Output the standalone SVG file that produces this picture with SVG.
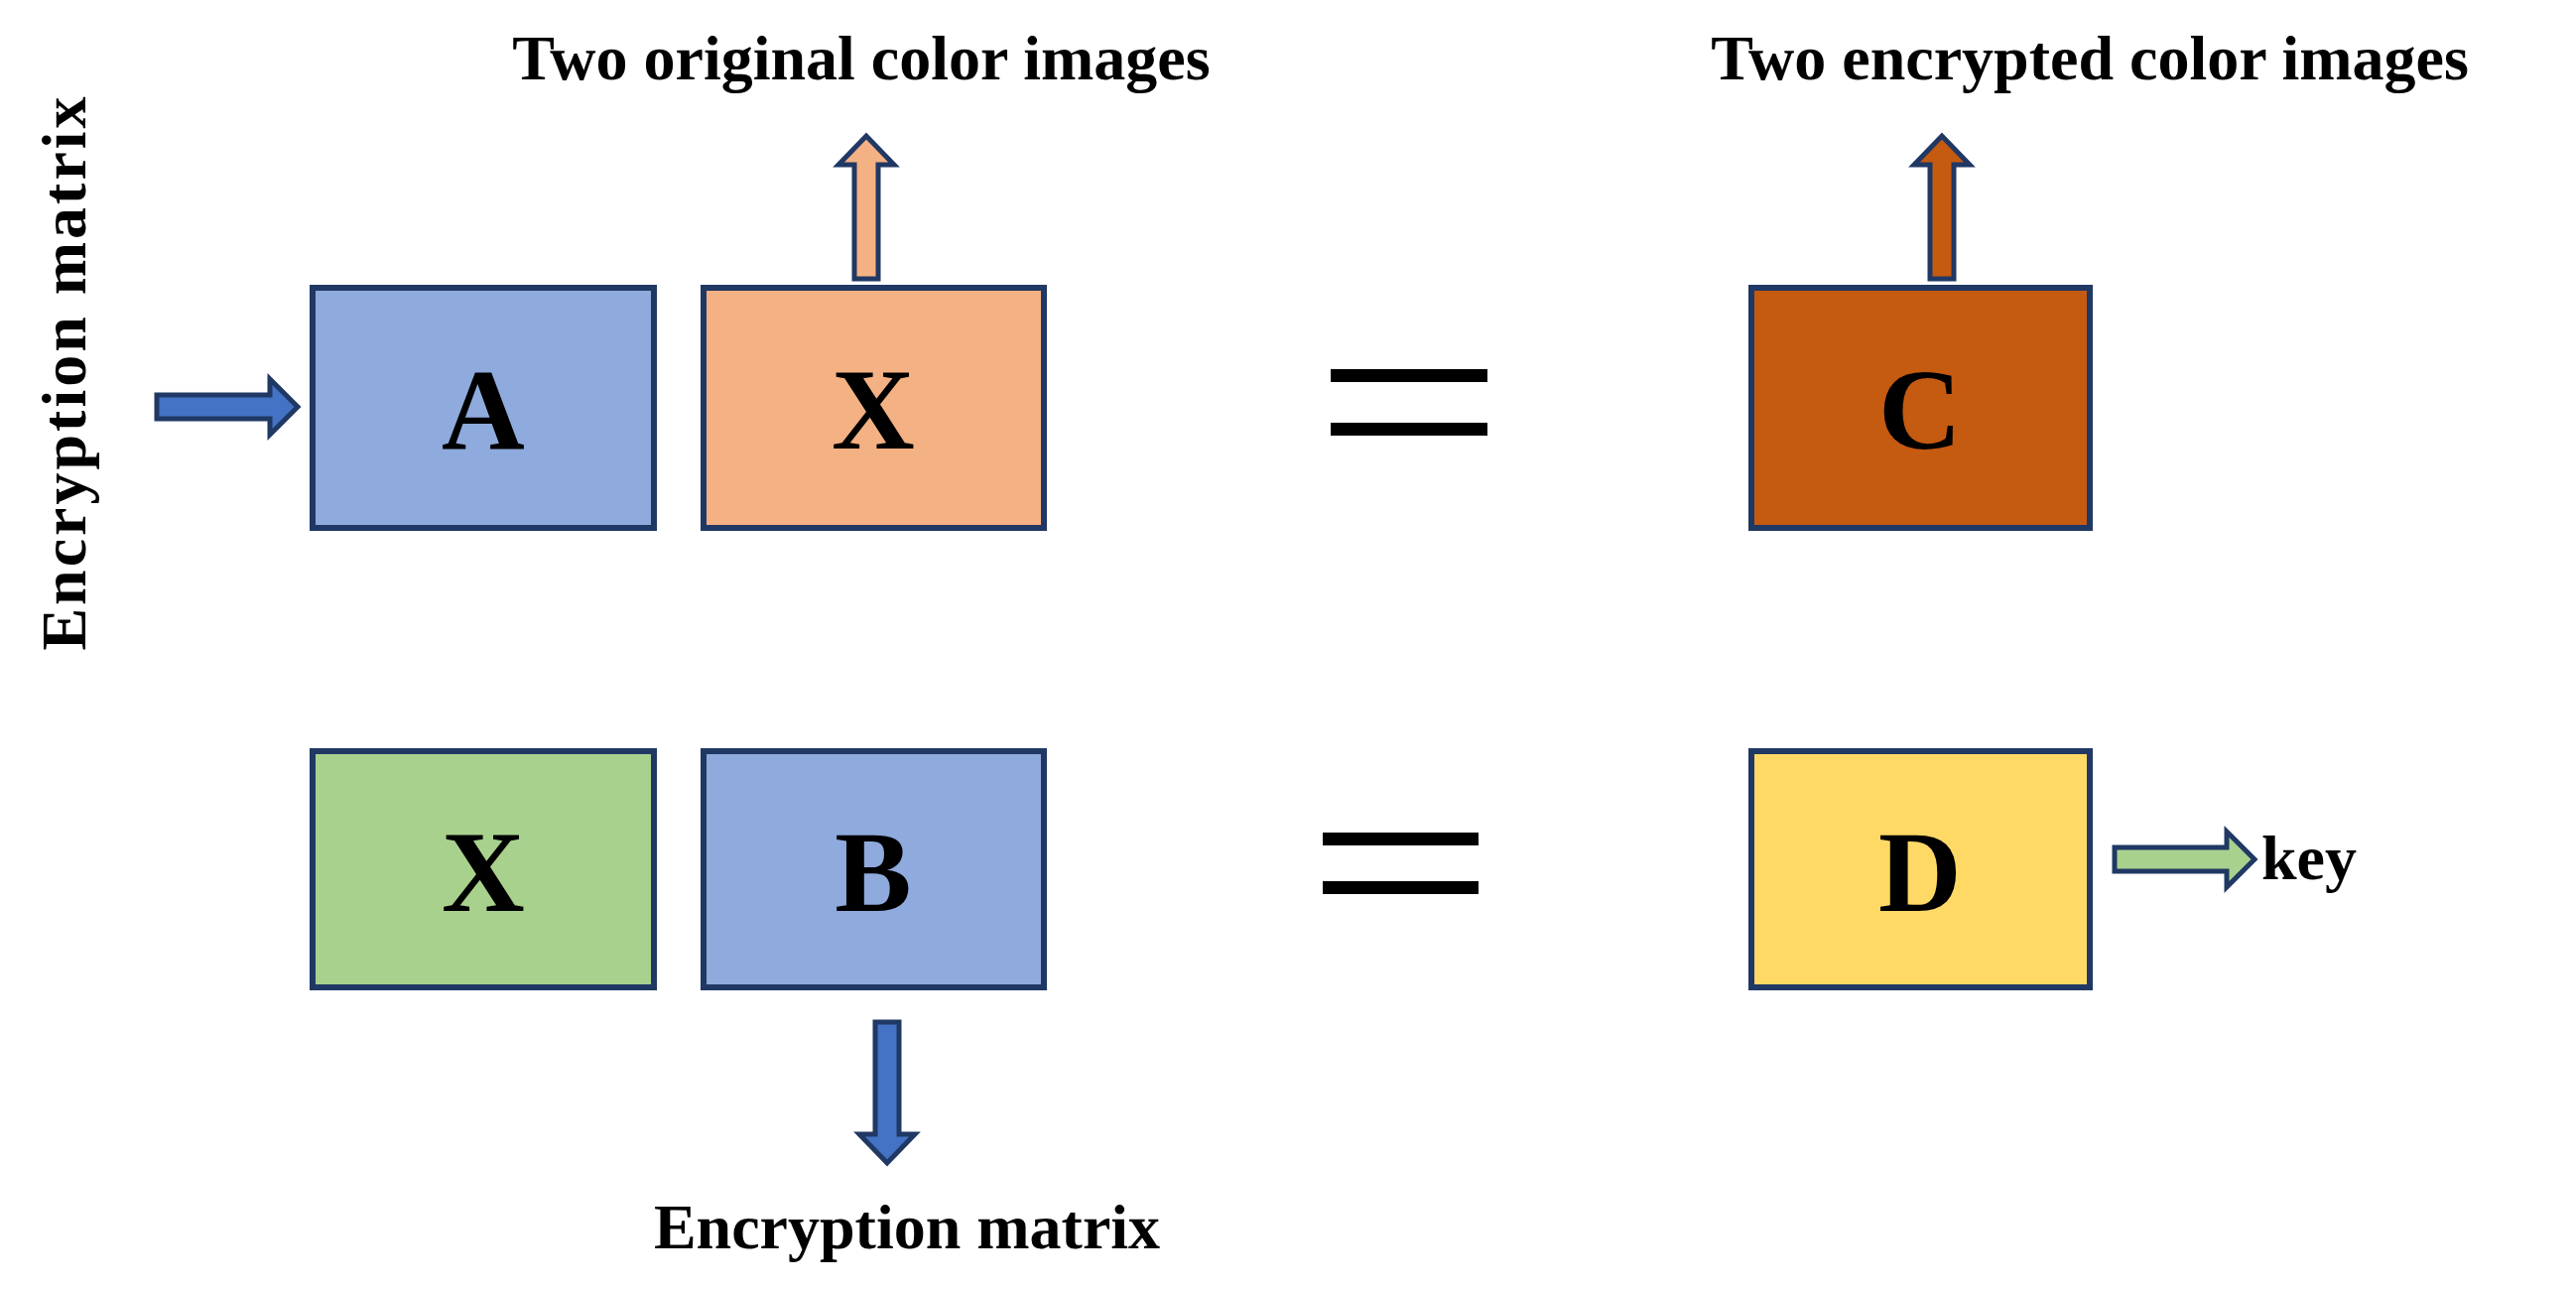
<svg xmlns="http://www.w3.org/2000/svg" width="2596" height="1300" viewBox="0 0 2596 1300">
<style>
.box{stroke:#203864;stroke-width:6}
.arr{stroke:#203864;stroke-width:5;stroke-linejoin:miter}
.lbl{font-family:"Liberation Serif",serif;font-weight:bold;font-size:116px;text-anchor:middle;fill:#000}
.t{font-family:"Liberation Serif",serif;font-weight:bold;font-size:64px;fill:#000}
.eq{fill:#000}
</style>
<rect width="2596" height="1300" fill="#fff"/>
<g id="A"><rect class="box" x="315" y="290" width="344" height="242" fill="#8FAADC"/><text class="lbl" x="487" y="452">A</text></g>
<g id="X1"><rect class="box" x="709" y="290" width="343" height="242" fill="#F4B183"/><text class="lbl" x="880" y="452">X</text></g>
<g id="C"><rect class="box" x="1765" y="290" width="341" height="242" fill="#C55A11"/><text class="lbl" x="1935" y="452">C</text></g>
<g id="X2"><rect class="box" x="315" y="757" width="344" height="238" fill="#A9D18E"/><text class="lbl" x="487" y="918">X</text></g>
<g id="B"><rect class="box" x="709" y="757" width="343" height="238" fill="#8FAADC"/><text class="lbl" x="880" y="918">B</text></g>
<g id="D"><rect class="box" x="1765" y="757" width="341" height="238" fill="#FFD966"/><text class="lbl" x="1935" y="918">D</text></g>
<g id="eq1"><rect class="eq" x="1341" y="372" width="158" height="13"/><rect class="eq" x="1341" y="426" width="158" height="13"/></g>
<g id="eq2"><rect class="eq" x="1333" y="839" width="157" height="13"/><rect class="eq" x="1333" y="888" width="157" height="13"/></g>
<g id="labels">
<text class="t" x="868" y="80" text-anchor="middle">Two original color images</text>
<text class="t" x="2106" y="80" text-anchor="middle">Two encrypted color images</text>
<text class="t" x="914" y="1258" text-anchor="middle">Encryption matrix</text>
<text class="t" x="0" y="0" text-anchor="middle" transform="translate(86,375) rotate(-90)" letter-spacing="3">Encryption matrix</text>
<text class="t" x="2279" y="886" font-size="58">key</text>
</g>
<g id="connectors">
<path class="arr" fill="#4472C4" d="M158,398H272V382L300,410L272,438V422H158Z"/>
<path class="arr" fill="#F4B183" d="M861,281V166H845L873,137L901,166H885V281Z"/>
<path class="arr" fill="#C55A11" d="M1945,281V166H1929L1957,137L1985,166H1969V281Z"/>
<path class="arr" fill="#4472C4" d="M882,1030V1143H866L894,1172L922,1143H906V1030Z"/>
<path class="arr" fill="#A9D18E" d="M2131,854H2244V838L2272,866L2244,894V878H2131Z"/>
</g>
</svg>
